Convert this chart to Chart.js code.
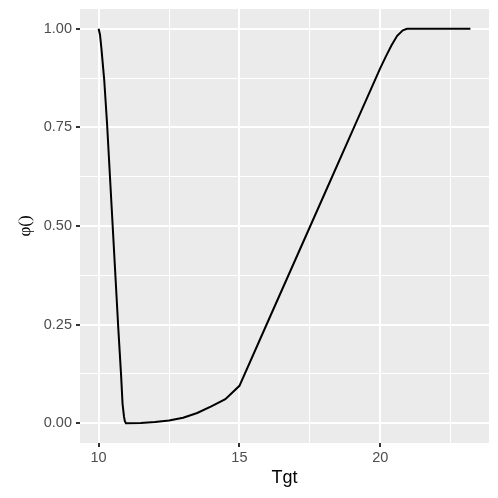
<!DOCTYPE html>
<html>
<head>
<meta charset="utf-8">
<script src="https://cdn.jsdelivr.net/npm/chart.js@4"></script>
<style>
  html, body { margin: 0; padding: 0; background: #fff; }
  #wrap { width: 498px; height: 498px; }
</style>
</head>
<body>
<div id="wrap"><canvas id="phiChart" width="498" height="498"></canvas></div>
<script>
/* Dades llegides del gràfic */
const tgt = [10, 10.05, 10.1, 10.2, 10.3, 10.4, 10.5, 10.6, 10.7, 10.8, 10.85, 10.9, 10.93, 10.97,
             11.5, 12, 12.5, 13, 13.5, 14, 14.5, 15, 16, 17, 18, 19, 20, 20.2, 20.4, 20.6, 20.8, 20.95, 23.2]
const phi = [1.0, 0.985, 0.95, 0.87, 0.76, 0.63, 0.5, 0.37, 0.24, 0.12, 0.05, 0.018, 0.006, 0,
             0.001, 0.003, 0.007, 0.014, 0.026, 0.043, 0.061, 0.095, 0.256, 0.417, 0.578, 0.739, 0.9, 0.93, 0.958, 0.982, 0.996, 1.0, 1.0]

const xTickValues = [10, 12.5, 15, 17.5, 20, 22.5]
const xTickLabels = ['10', '', '15', '', '20', '']
const yTickValues = [0, 0.125, 0.25, 0.375, 0.5, 0.625, 0.75, 0.875, 1]
const yTickLabels = ['0.00', '', '0.25', '', '0.50', '', '0.75', '', '1.00']

/* Fons del panell, com a ggplot */
const panelBg = {
    id: 'panelBg',
    beforeDraw(chart) {
        const {ctx, chartArea: a} = chart
        ctx.save()
        ctx.fillStyle = '#EBEBEB'
        ctx.fillRect(a.left, a.top, a.right - a.left, a.bottom - a.top)
        ctx.restore()
    }
}

const gridFor = labels => ({
    color: '#FFFFFF',
    lineWidth: c => labels[c.index] ? 2 : 1,
    tickColor: c => labels[c.index] ? '#333333' : 'rgba(0,0,0,0)',
    tickWidth: 2,
    tickLength: 4
})

const tickFont = { family: 'Liberation Sans', size: 14.5 }

const data = {
    datasets: [{
        data: tgt.map((x, i) => ({ x, y: phi[i] })),
        borderColor: '#000',
        borderWidth: 2,
        pointRadius: 0,
        tension: 0,
        fill: false
    }]
}

const options = {
    responsive: false,
    animation: false,
    layout: { padding: { top: 9, right: 9, left: 0, bottom: 0 } },
    plugins: { legend: { display: false }, tooltip: { enabled: false } },
    scales: {
        x: {
            type: 'linear',
            min: 9.34, max: 23.86,
            afterBuildTicks: s => { s.ticks = xTickValues.map(value => ({ value })) },
            afterFit: s => { s.height = 55; s.paddingLeft = 0; s.paddingRight = 0 },
            border: { display: false },
            grid: gridFor(xTickLabels),
            ticks: {
                callback: (v, i) => xTickLabels[i],
                color: '#4D4D4D', font: tickFont, padding: 2, maxRotation: 0, autoSkip: false
            },
            title: {
                display: true, text: 'Tgt', color: '#000',
                font: { family: 'Liberation Sans', size: 18 },
                padding: { top: 0, bottom: 9 }
            }
        },
        y: {
            type: 'linear',
            min: -0.05, max: 1.05,
            afterBuildTicks: s => { s.ticks = yTickValues.map(value => ({ value })) },
            afterFit: s => { s.width = 80; s.paddingTop = 0; s.paddingBottom = 0 },
            border: { display: false },
            grid: gridFor(yTickLabels),
            ticks: {
                callback: (v, i) => yTickLabels[i],
                color: '#4D4D4D', font: tickFont, padding: 4, autoSkip: false
            },
            title: {
                display: true, text: 'φ()', color: '#000',
                font: { family: 'Liberation Serif', size: 17 },
                padding: { top: 15, bottom: 0 }
            }
        }
    }
}

new Chart('phiChart', { type: 'line', data, options, plugins: [panelBg] })
</script>
</body>
</html>
